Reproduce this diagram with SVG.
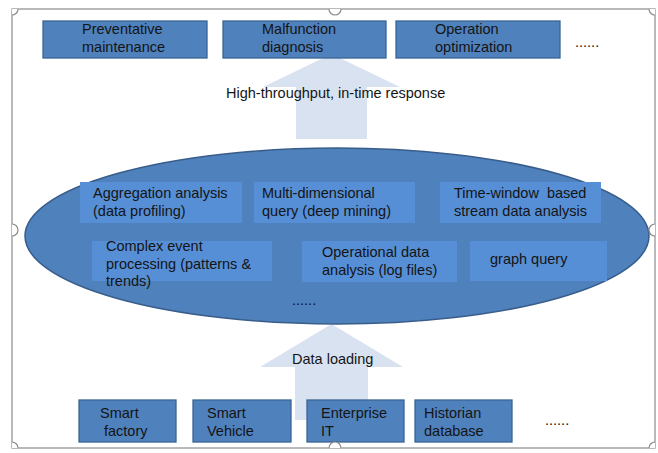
<svg xmlns="http://www.w3.org/2000/svg" width="658" height="453" viewBox="0 0 658 453">
<defs>
<clipPath id="fc"><rect x="12" y="9" width="643" height="439"/></clipPath>
<style>
.t{font-family:"Liberation Sans",Arial,sans-serif;font-size:14.5px;fill:#141414;white-space:pre}
.box{fill:#4f81bd;stroke:#3b6594;stroke-width:1.3}
.ibox{fill:#568fd6}
.arr{fill:#d9e2f0}
.frame{fill:none;stroke:#8c8c8c;stroke-width:1.2}
.h{fill:#fff;stroke:#8c8c8c;stroke-width:1.2}
</style>
</defs>
<rect width="658" height="453" fill="#fff"/>
<rect class="frame" x="12" y="9" width="643" height="439"/>
<g id="connectors">
<polygon class="arr" points="331.5,54 400,87 367,87 367,139 296,139 296,87 263,87"/>
<polygon class="arr" points="331.5,324 403,367 368,367 368,420 295,420 295,367 260,367"/>
<text class="t" x="226" y="98">High-throughput, in-time response</text>
<text class="t" x="292" y="364">Data loading</text>
</g>
<g id="n-preventative"><rect class="box" x="43" y="21" width="164" height="37"/><text class="t" x="82" y="34">Preventative</text><text class="t" x="82" y="51.5">maintenance</text></g>
<g id="n-malfunction"><rect class="box" x="223" y="21" width="163" height="37"/><text class="t" x="262" y="34">Malfunction</text><text class="t" x="262" y="51.5">diagnosis</text></g>
<g id="n-operation"><rect class="box" x="396" y="21" width="164" height="37"/><text class="t" x="435" y="34">Operation</text><text class="t" x="435" y="51.5">optimization</text></g>
<g id="n-more-top"><text class="t" x="575" y="47">......</text></g>
<g id="n-platform">
<ellipse cx="337" cy="236" rx="312" ry="88" fill="#4f81bd" stroke="#385d8a" stroke-width="1.5"/>
<g id="n-aggregation"><rect class="ibox" x="80" y="182" width="162" height="41"/><text class="t" x="93" y="198">Aggregation analysis</text><text class="t" x="93" y="216">(data profiling)</text></g>
<g id="n-multidim"><rect class="ibox" x="254" y="182" width="161" height="41"/><text class="t" x="262" y="198">Multi-dimensional</text><text class="t" x="262" y="216">query (deep mining)</text></g>
<g id="n-timewindow"><rect class="ibox" x="440" y="182" width="161" height="41"/><text class="t" x="454" y="198">Time-window  based</text><text class="t" x="454" y="216">stream data analysis</text></g>
<g id="n-cep"><rect class="ibox" x="92" y="241" width="180" height="40"/><text class="t" x="106" y="251">Complex event</text><text class="t" x="106" y="268.5">processing (patterns &amp;</text><text class="t" x="106" y="286">trends)</text></g>
<g id="n-operational"><rect class="ibox" x="302" y="241" width="155" height="41"/><text class="t" x="322" y="257">Operational data</text><text class="t" x="322" y="274.5">analysis (log files)</text></g>
<g id="n-graph"><rect class="ibox" x="470" y="241" width="137" height="40"/><text class="t" x="490" y="264">graph query</text></g>
<g id="n-more-mid"><text class="t" x="292" y="305">......</text></g>
</g>
<g id="n-factory"><rect class="box" x="79" y="400" width="97" height="42"/><text class="t" x="100" y="418">Smart</text><text class="t" x="104" y="435.5">factory</text></g>
<g id="n-vehicle"><rect class="box" x="193" y="400" width="98" height="42"/><text class="t" x="207" y="418">Smart</text><text class="t" x="207" y="435.5">Vehicle</text></g>
<g id="n-enterprise"><rect class="box" x="307" y="400" width="97" height="42"/><text class="t" x="321" y="418">Enterprise</text><text class="t" x="321" y="435.5">IT</text></g>
<g id="n-historian"><rect class="box" x="415" y="400" width="97" height="42"/><text class="t" x="424" y="418">Historian</text><text class="t" x="424" y="435.5">database</text></g>
<g id="n-more-bottom"><text class="t" x="545" y="425">......</text></g>
<g id="handles" clip-path="url(#fc)">
<circle class="h" cx="12" cy="9" r="6"/><circle class="h" cx="335" cy="9" r="6"/><circle class="h" cx="655" cy="9" r="6"/>
<circle class="h" cx="12" cy="230" r="6"/><circle class="h" cx="655" cy="230" r="6"/>
<circle class="h" cx="12" cy="448" r="6"/><circle class="h" cx="335" cy="448" r="6"/><circle class="h" cx="655" cy="448" r="6"/>
</g>
</svg>
